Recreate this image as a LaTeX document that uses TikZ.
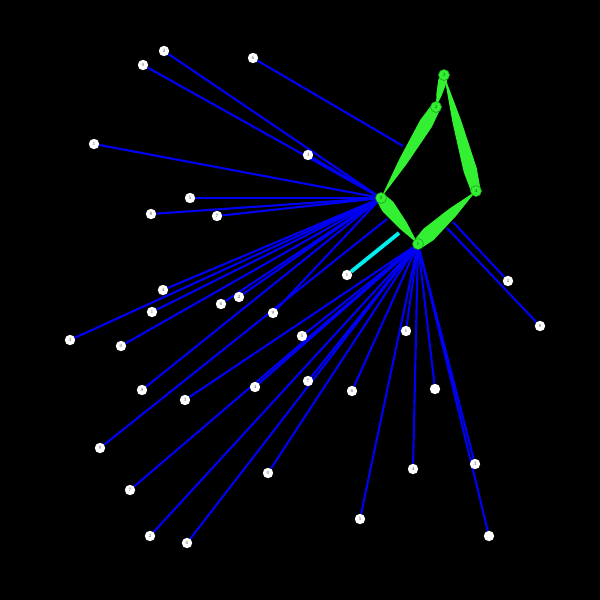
\documentclass[tikz,border=0pt]{standalone}
\usepackage{tikz}
\usetikzlibrary{calc}
\pgfdeclarelayer{bg}
\pgfdeclarelayer{wires}
\pgfsetlayers{bg,wires,main}
\definecolor{hubgreen}{RGB}{51,240,51}
\definecolor{hubrim}{RGB}{25,160,25}
\definecolor{linkblue}{RGB}{0,0,245}
\definecolor{linkcyan}{RGB}{0,240,240}
\tikzset{
  leaf/.style = {circle, fill = white, inner sep = 0pt, minimum size = 0.52cm,
                 font = \fontsize{7}{7}\selectfont, text = black!70},
  hub/.style  = {circle, fill = hubgreen, draw = hubrim, line width = 0.8pt,
                 inner sep = 0pt, minimum size = 0.55cm,
                 font = \fontsize{7}{7}\selectfont, text = hubrim!50!black},
  link/.style = {draw = linkblue, line width = 3pt},
  hilink/.style = {draw = linkcyan, line width = 5.5pt},
  flow/.style = {fill = hubgreen}
}
% tapered green link: wide at #1, pointed at #2 (#3 = half width in cm)
\newcommand{\taper}[3]{%
  \fill[flow] ($(#1)!#3*0.7cm!90:(#2)$) -- ($(#1)!0.18!(#2)!#3cm!90:(#2)$)
    -- ($(#1)!0.6!(#2)!#3*0.65cm!90:(#2)$) -- (#2.center)
    -- ($(#1)!0.6!(#2)!#3*0.65cm!-90:(#2)$)
    -- ($(#1)!0.18!(#2)!#3cm!-90:(#2)$)
    -- ($(#1)!#3*0.7cm!-90:(#2)$) -- cycle;}

\begin{document}
\begin{tikzpicture}[x = 0.05cm, y = -0.05cm]
        \begin{pgfonlayer}{bg}
        \fill[black] (0,0) rectangle (600,600);
        \end{pgfonlayer}
        % hubs
        \node (A)[hub] at (381,198) {0};
        \node (B)[hub] at (418,244) {1};
        \node (C)[hub] at (436,107) {2};
        \node (D)[hub] at (444,75) {3};
        \node (E)[hub] at (476,191) {4};
        % leaves
        \node (l1)[leaf] at (164,51) {2};
        \node (l2)[leaf] at (143,65) {0};
        \node (l3)[leaf] at (253,58) {6};
        \node (l4)[leaf] at (94,144) {1};
        \node (l5)[leaf] at (308,155) {3};
        \node (l6)[leaf] at (190,198) {5};
        \node (l7)[leaf] at (151,214) {8};
        \node (l8)[leaf] at (217,216) {7};
        \node (l9)[leaf] at (163,290) {4};
        \node (l10)[leaf] at (152,312) {1};
        \node (l11)[leaf] at (221,304) {6};
        \node (l12)[leaf] at (239,297) {2};
        \node (l13)[leaf] at (273,313) {9};
        \node (l14)[leaf] at (70,340) {3};
        \node (l15)[leaf] at (121,346) {0};
        \node (l16)[leaf] at (302,336) {5};
        \node (l17)[leaf] at (142,390) {8};
        \node (l18)[leaf] at (185,400) {3};
        \node (l19)[leaf] at (255,387) {4};
        \node (l20)[leaf] at (308,381) {7};
        \node (l21)[leaf] at (352,391) {6};
        \node (l22)[leaf] at (406,331) {1};
        \node (l23)[leaf] at (435,389) {};
        \node (l24)[leaf] at (100,448) {9};
        \node (l25)[leaf] at (130,490) {7};
        \node (l26)[leaf] at (268,473) {0};
        \node (l27)[leaf] at (150,536) {2};
        \node (l28)[leaf] at (187,543) {6};
        \node (l29)[leaf] at (360,519) {5};
        \node (l30)[leaf] at (413,469) {4};
        \node (l31)[leaf] at (475,464) {3};
        \node (l32)[leaf] at (489,536) {};
        \node (l33)[leaf] at (347,275) {1};
        \node (l34)[leaf] at (508,281) {2};
        \node (l35)[leaf] at (540,326) {8};
        % loose ends
        \coordinate (e3) at (403,146);
        \coordinate (e24) at (387,219);
        \coordinate (e33) at (399,233);
        \coordinate (e34) at (453,222);
        \coordinate (e35) at (447,228);
        \begin{pgfonlayer}{wires}
        \foreach \i in {1,2,4,5,6,7,8,9,10,11,12,13,14,15,17}
            \path (l\i) edge[link] (A);
        \foreach \i in {16,18,19,20,21,22,23,25,26,27,28,29,30,31,32}
            \path (l\i) edge[link] (B);
        \path (l3) edge[link] (e3);
        \path (l24) edge[link] (e24);
        \path (l34) edge[link] (e34);
        \path (l35) edge[link] (e35);
        \path (l33) edge[hilink] (e33);
        \taper{A}{B}{0.36}
        \taper{B}{E}{0.38}
        \taper{E}{D}{0.34}
        \taper{D}{C}{0.22}
        \taper{C}{A}{0.34}
        \end{pgfonlayer}
    \end{tikzpicture}
\end{document}
